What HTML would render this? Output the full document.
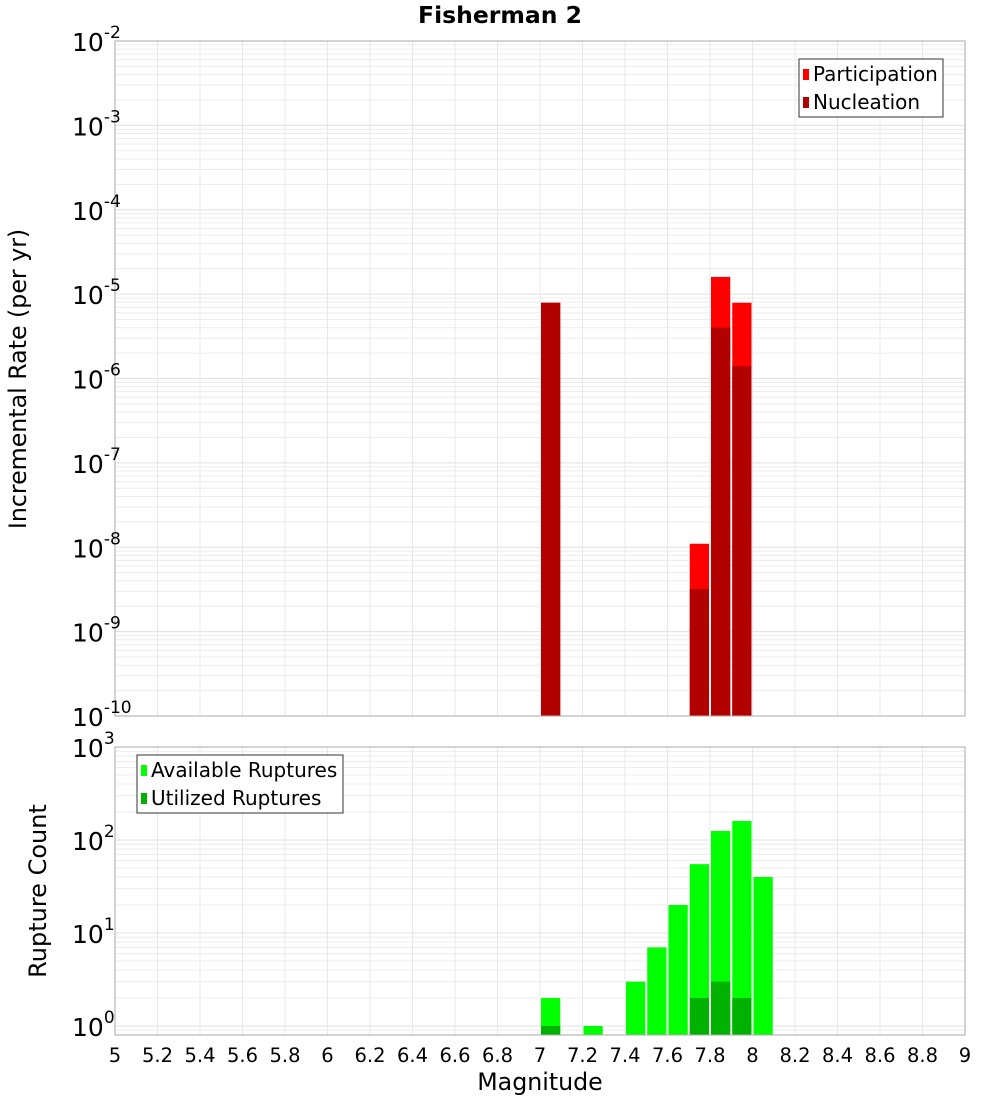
<!DOCTYPE html>
<html><head><meta charset="utf-8"><style>
body{margin:0;background:#fff}
text{font-family:"DejaVu Sans","Liberation Sans",sans-serif}
</style></head><body>
<svg id="c" width="1000" height="1100" xmlns="http://www.w3.org/2000/svg">
<text x="500" y="23" text-anchor="middle" font-size="23.5" font-weight="bold">Fisherman 2</text>
<text transform="translate(26,379) rotate(-90)" text-anchor="middle" font-size="23.7">Incremental Rate (per yr)</text>
<text transform="translate(46,891) rotate(-90)" text-anchor="middle" font-size="24">Rupture Count</text>
<text x="540" y="1090" text-anchor="middle" font-size="23.7">Magnitude</text>
<g id="top"></g><g id="bot"></g>
</svg>
<script>
const bins=[7.05,7.75,7.85,7.95];
const participation=[7.9e-6,1.1e-8,1.6e-5,7.9e-6];
const nucleation=[7.9e-6,3.2e-9,4.0e-6,1.4e-6];
const countBins=[7.05,7.25,7.45,7.55,7.65,7.75,7.85,7.95,8.05];
const available=[2,1,3,7,20,55,125,160,40];
const utilBins=[7.05,7.75,7.85,7.95];
const utilized=[1,2,3,2];
const xTicks=["5","5.2","5.4","5.6","5.8","6","6.2","6.4","6.6","6.8","7","7.2","7.4","7.6","7.8","8","8.2","8.4","8.6","8.8","9"];
const topExp=[-2,-3,-4,-5,-6,-7,-8,-9,-10];
const botExp=[0,1,2,3];
const NS="http://www.w3.org/2000/svg";
const X0=115,X1=965;
const xs=m=>X0+(m-5)/4*(X1-X0);
function mk(p,t,a){const e=document.createElementNS(NS,t);for(const k in a)e.setAttribute(k,a[k]);p.appendChild(e);return e;}
function panel(g,yT,yB,ys,lo,hi){
 for(let d=Math.floor(lo);d<Math.ceil(hi);d++)for(let k=1;k<10;k++){const v=d+Math.log10(k);if(v<lo||v>hi)continue;const y=ys(v);
  const l=mk(g,'line',{x1:X0,x2:X1,y1:y,y2:y,stroke:k==1?'#e0e0e0':'#ececec','stroke-width':1});}
 xTicks.forEach(t=>{const x=xs(+t);const l=mk(g,'line',{x1:x,x2:x,y1:yT,y2:yB,stroke:'#e8e8e8'});});
}
function bar(g,m,v,ys,yB,fill,name){const y=ys(Math.log10(v));const r=mk(g,'rect',{x:xs(m-0.05)+1,y:y,width:(X1-X0)/40-2,height:yB-y,fill:fill});}
function ylab(g,e,y,name){const t=mk(g,'text',{x:72,y:y+10,'font-size':25});t.textContent='10';const s=mk(t,'tspan',{dy:-13,'font-size':17});s.textContent=String(e);}
const tg=document.getElementById('top');const TT=41,TB=716;
const ysT=v=>TT+(-2-v)/8*(TB-TT);
panel(tg,TT,TB,ysT,-10,-2);
bins.forEach((m,i)=>bar(tg,m,participation[i],ysT,TB,'#ff0000','participation-bar'));
bins.forEach((m,i)=>bar(tg,m,nucleation[i],ysT,TB,'#b20000','nucleation-bar'));
let f=mk(tg,'rect',{x:X0,y:TT,width:X1-X0,height:TB-TT,fill:'none',stroke:'#aaa'});
topExp.forEach(e=>ylab(tg,e,ysT(e),'top-y-tick-label'));
const bg=document.getElementById('bot');const BT=747,BB=1035;
const ysB=v=>BT+(3-v)*93;
const lo=3-(BB-BT)/93;
panel(bg,BT,BB,ysB,lo,3);
countBins.forEach((m,i)=>bar(bg,m,available[i],ysB,BB,'#00ff00','available-bar'));
utilBins.forEach((m,i)=>bar(bg,m,utilized[i],ysB,BB,'#00b200','utilized-bar'));
f=mk(bg,'rect',{x:X0,y:BT,width:X1-X0,height:BB-BT,fill:'none',stroke:'#aaa'});
botExp.forEach(e=>ylab(bg,e,ysB(e),'bottom-y-tick-label'));
xTicks.forEach(t=>{const e=mk(bg,'text',{x:xs(+t),y:1062,'text-anchor':'middle','font-size':19.5});e.textContent=t;});
function legend(g,x,y,w,items,name){const r=mk(g,'rect',{x:x,y:y,width:w,height:58,fill:'#fff',stroke:'#333'});
 items.forEach((it,i)=>{const s=mk(g,'rect',{x:x+4,y:y+10+i*28,width:6,height:11,fill:it[1]});
 const t=mk(g,'text',{x:x+14,y:y+22+i*28,'font-size':20});t.textContent=it[0];});}
legend(tg,799,59,144,[['Participation','#ff0000'],['Nucleation','#b20000']],'top-legend');
legend(bg,137,755,206,[['Available Ruptures','#00ff00'],['Utilized Ruptures','#00b200']],'bottom-legend');
</script>
</body></html>
